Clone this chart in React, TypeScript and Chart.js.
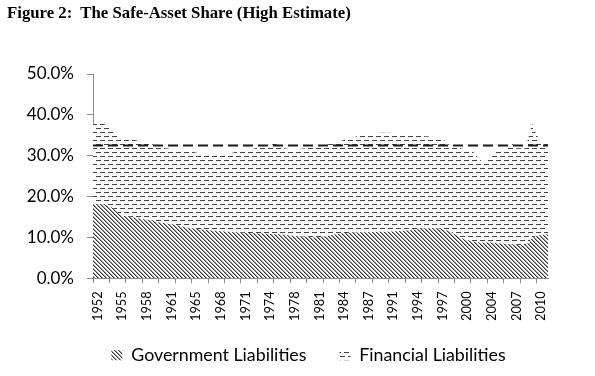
import React, { useEffect, useRef } from 'react';
import { Chart, registerables } from 'chart.js';

Chart.register(...registerables);

const TITLE = 'Figure 2:  The Safe-Asset Share (High Estimate)';
const seriesNames = ['Government Liabilities', 'Financial Liabilities'];

// x position in years (1952 = left edge of the plot, 2012 = right edge)
const years = [
  1952.0, 1953.0, 1954.0, 1954.6, 1955.3, 1955.7, 1957.0, 1958.3, 1959.5, 1960.5,
  1961.5, 1963.0, 1964.5, 1966.0, 1967.5, 1969.0, 1970.5, 1972.0, 1973.5, 1975.0,
  1976.0, 1976.6, 1978.0, 1979.5, 1981.0, 1982.0, 1983.0, 1984.0, 1985.0, 1986.5,
  1988.0, 1989.5, 1991.0, 1992.5, 1994.0, 1995.5, 1997.0, 1998.2, 1999.0, 2000.0,
  2001.0, 2002.0, 2002.8, 2003.5, 2004.3, 2005.3, 2006.5, 2007.2, 2007.8, 2009.0,
  2009.5, 2009.9, 2010.4, 2011.0, 2012.0,
];

// percent of total assets
const governmentLiabilities = [
  18.2, 18.2, 17.8, 17.2, 16.0, 15.4, 15.0, 14.6, 14.2, 13.8,
  13.5, 13.0, 12.4, 12.0, 11.7, 11.5, 11.3, 11.1, 11.0, 10.9,
  10.8, 10.8, 10.5, 10.2, 10.0, 10.1, 10.4, 10.8, 11.0, 11.2,
  11.3, 11.4, 11.4, 11.6, 11.8, 12.2, 12.3, 12.0, 11.5, 10.5,
  9.5, 9.0, 8.8, 8.7, 8.8, 8.6, 8.4, 8.3, 8.2, 8.0,
  8.8, 9.8, 10.3, 10.6, 10.7,
];

const financialLiabilities = [
  19.6, 19.6, 19.8, 18.6, 19.5, 18.8, 19.0, 19.0, 19.0, 18.4,
  18.3, 18.6, 18.8, 18.6, 18.6, 18.9, 19.5, 20.2, 20.8, 21.1,
  22.4, 21.2, 21.1, 21.5, 22.0, 22.2, 22.4, 22.4, 22.8, 23.4,
  24.0, 24.2, 24.2, 23.9, 23.4, 22.6, 22.3, 22.0, 21.1, 21.5,
  22.1, 22.2, 20.7, 19.5, 20.7, 22.8, 23.2, 24.9, 23.6, 23.8,
  26.2, 28.2, 25.2, 22.9, 22.5,
];

const averageShareYears = [1952, 2012];
const averageShare = [32.5, 32.5];

const xTickLabels = [
  '1952', '1955', '1958', '1961', '1965', '1968', '1971', '1974', '1978', '1981',
  '1984', '1987', '1991', '1994', '1997', '2000', '2004', '2007', '2010',
];
const yTickLabels = ['0.0%', '10.0%', '20.0%', '30.0%', '40.0%', '50.0%'];

function makeHatch(): CanvasPattern {
  const c = document.createElement('canvas');
  c.width = 4;
  c.height = 4;
  const g = c.getContext('2d') as CanvasRenderingContext2D;
  g.fillStyle = '#ffffff';
  g.fillRect(0, 0, 4, 4);
  for (let i = 0; i < 4; i++) {
    g.fillStyle = '#3a3a3a';
    g.fillRect(i, i, 1, 1);
    g.fillStyle = '#9a9a9a';
    g.fillRect((i + 1) % 4, i, 1, 1);
  }
  return g.createPattern(c, 'repeat') as CanvasPattern;
}

function makeDashes(): CanvasPattern {
  const c = document.createElement('canvas');
  c.width = 8;
  c.height = 8;
  const g = c.getContext('2d') as CanvasRenderingContext2D;
  g.fillStyle = '#ffffff';
  g.fillRect(0, 0, 8, 8);
  g.fillStyle = '#444444';
  g.fillRect(0, 0, 5, 1);
  g.fillRect(4, 4, 4, 1);
  g.fillRect(0, 4, 1, 1);
  return g.createPattern(c, 'repeat') as CanvasPattern;
}

// places the legend row under the plot, centred like the original
const legendPlacement = {
  id: 'legendPlacement',
  afterLayout(chart: any) {
    const l = chart.legend;
    if (!l) return;
    const h = l.height;
    l.left = 72;
    l.right = 545;
    l.width = 473;
    l.top = 313.4;
    l.bottom = 313.4 + h;
  },
};

export default function App() {
  const ref = useRef<HTMLCanvasElement>(null);

  useEffect(() => {
    const canvas = ref.current;
    if (!canvas) return;
    const hatch = makeHatch();
    const dashes = makeDashes();
    const xTickValues: number[] = [];
    for (let k = 0; k <= 55; k++) xTickValues.push(1952 + (k * 13) / 12);

    const chart = new Chart(canvas, {
      type: 'line',
      data: {
        datasets: [
          {
            label: 'average',
            data: averageShareYears.map((x, i) => ({ x, y: averageShare[i] })),
            borderColor: '#1a1a1a',
            borderWidth: 2,
            borderDash: [10, 5],
            pointRadius: 0,
            fill: false,
            stack: 'avg',
          },
          {
            label: seriesNames[0],
            data: years.map((x, i) => ({ x, y: governmentLiabilities[i] })),
            backgroundColor: hatch,
            borderColor: 'rgba(0,0,0,0)',
            borderWidth: 1,
            pointRadius: 0,
            fill: 'origin',
            stack: 'liab',
          },
          {
            label: seriesNames[1],
            data: years.map((x, i) => ({ x, y: financialLiabilities[i] })),
            backgroundColor: dashes,
            borderColor: 'rgba(0,0,0,0)',
            borderWidth: 1,
            pointRadius: 0,
            fill: '-1',
            stack: 'liab',
          },
        ],
      } as any,
      options: {
        responsive: false,
        animation: false,
        devicePixelRatio: 1,
        layout: { padding: { left: 20, right: 47, top: 74, bottom: 3 } },
        plugins: {
          legend: {
            position: 'bottom',
            align: 'center',
            fullSize: true,
            maxHeight: 52.7,
            labels: {
              boxWidth: 11,
              boxHeight: 10,
              padding: 33,
              color: '#000',
              font: { family: 'Lato', size: 17.8 },
              filter: (item: any) => item.datasetIndex !== 0,
            },
          },
          tooltip: { enabled: false },
          title: { display: false },
        },
        scales: {
          x: {
            type: 'linear',
            min: 1952,
            max: 2012,
            afterBuildTicks: (s: any) => {
              s.ticks = xTickValues.map((v) => ({ value: v }));
            },
            afterFit: (s: any) => {
              s.height = 42;
            },
            grid: {
              drawOnChartArea: false,
              drawTicks: true,
              tickLength: 5,
              tickColor: (c: any) => (c.index % 2 === 0 ? '#8c8c8c' : 'rgba(0,0,0,0)'),
            },
            border: { display: true, color: '#8c8c8c', width: 1 },
            ticks: {
              autoSkip: false,
              minRotation: 90,
              maxRotation: 90,
              padding: 8,
              labelOffset: 4.6,
              color: '#000',
              font: { family: 'Lato', size: 12.8 },
              callback: (_v: any, i: number) => (i % 3 === 0 ? xTickLabels[i / 3] : ''),
            },
          },
          y: {
            stacked: true,
            min: 0,
            max: 50,
            afterFit: (s: any) => {
              s.width = 73;
            },
            grid: { drawOnChartArea: false, tickLength: 6, tickColor: '#8c8c8c' },
            border: { display: true, color: '#8c8c8c', width: 1 },
            ticks: {
              stepSize: 10,
              padding: 13,
              color: '#000',
              font: { family: 'Lato', size: 17 },
              callback: (_v: any, i: number) => yTickLabels[i],
            },
          },
        },
      } as any,
      plugins: [legendPlacement],
    });
    return () => chart.destroy();
  }, []);

  return (
    <div style={{ position: 'absolute', left: 0, top: 0, width: 595, height: 376, background: '#fff' }}>
      <div
        style={{
          position: 'absolute',
          left: 7,
          top: 5,
          fontFamily: '"Liberation Serif", serif',
          fontWeight: 'bold',
          fontSize: 16.75,
          lineHeight: '16.5px',
          whiteSpace: 'pre',
          color: '#000',
        }}
      >
        {TITLE}
      </div>
      <canvas ref={ref} width={595} height={376} style={{ display: 'block', width: 595, height: 376 }} />
    </div>
  );
}
